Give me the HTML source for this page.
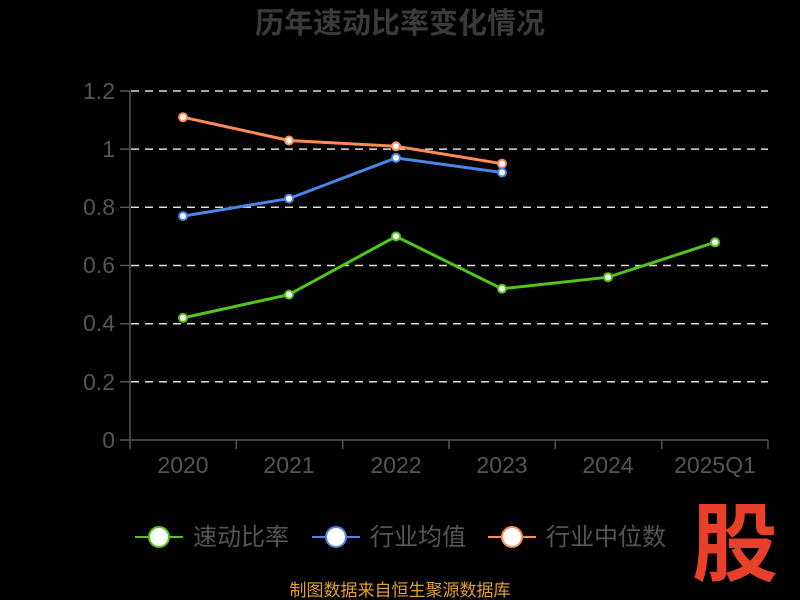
<!DOCTYPE html>
<html><head><meta charset="utf-8"><style>
html,body{margin:0;padding:0;background:#000;}
svg{display:block;font-family:"Liberation Sans","Noto Sans CJK SC",sans-serif;}
</style></head><body>
<svg width="800" height="600" viewBox="0 0 800 600">
<rect width="800" height="600" fill="#000"/>
<text x="400" y="33" text-anchor="middle" font-size="29" font-weight="bold" fill="#3a3a3a">历年速动比率变化情况</text>
<g stroke="#ddd" stroke-width="1.5" stroke-dasharray="8,6">
<line x1="131" x2="768" y1="91" y2="91"/><line x1="131" x2="768" y1="149.1" y2="149.1"/>
<line x1="131" x2="768" y1="207.3" y2="207.3"/><line x1="131" x2="768" y1="265.5" y2="265.5"/>
<line x1="131" x2="768" y1="323.7" y2="323.7"/><line x1="131" x2="768" y1="381.8" y2="381.8"/>
</g>
<g stroke="#555" stroke-width="1.5">
<line x1="130" x2="130" y1="91" y2="440"/>
<line x1="120" x2="130" y1="91" y2="91"/><line x1="120" x2="130" y1="149.1" y2="149.1"/><line x1="120" x2="130" y1="207.3" y2="207.3"/><line x1="120" x2="130" y1="265.5" y2="265.5"/><line x1="120" x2="130" y1="323.7" y2="323.7"/><line x1="120" x2="130" y1="381.8" y2="381.8"/><line x1="120" x2="130" y1="440" y2="440"/>
<line x1="130" x2="768" y1="440" y2="440"/>
<line x1="130" x2="130" y1="440" y2="449"/><line x1="236.3" x2="236.3" y1="440" y2="449"/><line x1="342.7" x2="342.7" y1="440" y2="449"/><line x1="449" x2="449" y1="440" y2="449"/><line x1="555.3" x2="555.3" y1="440" y2="449"/><line x1="661.7" x2="661.7" y1="440" y2="449"/><line x1="768" x2="768" y1="440" y2="449"/>
</g>
<g fill="#555" font-size="23" text-anchor="end">
<text x="115" y="99">1.2</text><text x="115" y="157">1</text><text x="115" y="215">0.8</text><text x="115" y="273">0.6</text><text x="115" y="331">0.4</text><text x="115" y="390">0.2</text><text x="115" y="448">0</text>
</g>
<g fill="#555" font-size="23" text-anchor="middle">
<text x="183" y="473">2020</text><text x="289" y="473">2021</text><text x="396" y="473">2022</text><text x="502" y="473">2023</text><text x="608" y="473">2024</text><text x="715" y="473">2025Q1</text>
</g>
<polyline fill="none" stroke="#ff8c55" stroke-width="3" points="183,117.2 289,140.5 396,146.3 502,163.7"/>
<polyline fill="none" stroke="#4a86e8" stroke-width="3" points="183,216.1 289,198.6 396,157.9 502,172.5"/>
<polyline fill="none" stroke="#52c41a" stroke-width="3" points="183,317.9 289,294.6 396,236.4 502,288.8 608,277.2 715,242.3"/>
<g fill="#fff" stroke-width="2">
<g stroke="#ff8c55"><circle cx="183" cy="117.2" r="4"/><circle cx="289" cy="140.5" r="4"/><circle cx="396" cy="146.3" r="4"/><circle cx="502" cy="163.7" r="4"/></g>
<g stroke="#4a86e8"><circle cx="183" cy="216.1" r="4"/><circle cx="289" cy="198.6" r="4"/><circle cx="396" cy="157.9" r="4"/><circle cx="502" cy="172.5" r="4"/></g>
<g stroke="#52c41a"><circle cx="183" cy="317.9" r="4"/><circle cx="289" cy="294.6" r="4"/><circle cx="396" cy="236.4" r="4"/><circle cx="502" cy="288.8" r="4"/><circle cx="608" cy="277.2" r="4"/><circle cx="715" cy="242.3" r="4"/></g>
</g>
<g font-size="24" fill="#555">
<line x1="135" x2="183" y1="537" y2="537" stroke="#52c41a" stroke-width="2"/><circle cx="159" cy="537" r="10" fill="#fff" stroke="#52c41a" stroke-width="2"/>
<text x="193" y="545">速动比率</text>
<line x1="312" x2="360" y1="537" y2="537" stroke="#4a86e8" stroke-width="2"/><circle cx="336" cy="537" r="10" fill="#fff" stroke="#4a86e8" stroke-width="2"/>
<text x="370" y="545">行业均值</text>
<line x1="488" x2="536" y1="537" y2="537" stroke="#ff8c55" stroke-width="2"/><circle cx="512" cy="537" r="10" fill="#fff" stroke="#ff8c55" stroke-width="2"/>
<text x="546" y="545">行业中位数</text>
</g>
<text x="735" y="574" text-anchor="middle" font-size="86" font-weight="bold" fill="#e8402a">股</text>
<text x="400" y="596" text-anchor="middle" font-size="17" fill="#e0a030">制图数据来自恒生聚源数据库</text>
</svg>
</body></html>
